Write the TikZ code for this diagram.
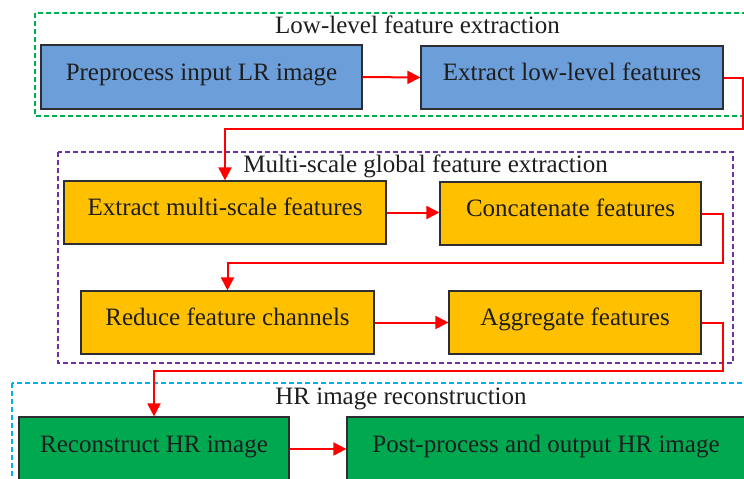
\documentclass[tikz,border=0pt]{standalone}
\usepackage{fontspec}
\setmainfont{Liberation Serif}
\usetikzlibrary{arrows.meta}
\definecolor{boxblue}{RGB}{108,158,218}
\definecolor{boxorange}{RGB}{255,192,0}
\definecolor{boxgreen}{RGB}{0,168,80}
\definecolor{dgreen}{RGB}{0,176,80}
\definecolor{dpurple}{RGB}{112,48,160}
\definecolor{dcyan}{RGB}{0,176,240}
\definecolor{txt}{RGB}{30,30,30}
\definecolor{edge}{RGB}{45,45,50}
\tikzset{
  procbox/.style={draw=edge, line width=1.2pt, inner sep=0pt, text=txt,
    text height=14pt, text depth=8pt,
    font=\fontsize{25}{30}\selectfont, anchor=center},
  grpbox/.style={line width=1.4pt, dash pattern=on 5pt off 3pt},
  grptitle/.style={anchor=base, text=txt, inner sep=0pt, font=\fontsize{25}{30}\selectfont},
  arr/.style={draw=red, line width=2pt, -{Triangle[length=13pt,width=13pt]}}
}
\begin{document}
\begin{tikzpicture}[x=1pt,y=-1pt]
\useasboundingbox (0,0) rectangle (744,479);
\clip (0,0) rectangle (744,479);
% group frames
\draw[grpbox, draw=dgreen] (35,13) rectangle (760,116);
\draw[grpbox, draw=dpurple] (58,152) rectangle (733,363);
\draw[grpbox, draw=dcyan] (12,383) rectangle (760,500);
% group titles
\node[grptitle] (t1) at (417.5,33) {Low-level feature extraction};
\node[grptitle] (t2) at (425.5,172) {Multi-scale global feature extraction};
\node[grptitle] (t3) at (401,404) {HR image reconstruction};
% boxes
\node[procbox, fill=boxblue, minimum width=321pt, minimum height=64pt] (b1) at (201.5,77) {Preprocess input LR image};
\node[procbox, fill=boxblue, minimum width=302pt, minimum height=63pt] (b2) at (572,77.5) {Extract low-level features};
\node[procbox, fill=boxorange, minimum width=322pt, minimum height=63pt] (b3) at (225,212.5) {Extract multi-scale features};
\node[procbox, fill=boxorange, minimum width=261pt, minimum height=63pt] (b4) at (570.5,213.5) {Concatenate features};
\node[procbox, fill=boxorange, minimum width=293pt, minimum height=63pt] (b5) at (227.5,322.5) {Reduce feature channels};
\node[procbox, fill=boxorange, minimum width=252pt, minimum height=63pt] (b6) at (575,322.5) {Aggregate features};
\node[procbox, fill=boxgreen, minimum width=270pt, minimum height=64pt] (b7) at (154,449) {Reconstruct HR image};
\node[procbox, fill=boxgreen, minimum width=398pt, minimum height=64pt] (b8) at (546,449) {Post-process and output HR image};
% turning points
\coordinate (c1) at (743,129);
\coordinate (c2) at (723,263);
\coordinate (c3) at (723,371);
% connectors
\draw[arr] (b1.east) -- (b2.west);
\draw[arr] (b2.east) -| (c1) -| (b3.north);
\draw[arr] (b3.east) -- (b3.east -| b4.west);
\draw[arr] (b4.east) -| (c2) -| (b5.north);
\draw[arr] (b5.east) -- (b5.east -| b6.west);
\draw[arr] (b6.east) -| (c3) -| (b7.north);
\draw[arr] (b7.east) -- (b7.east -| b8.west);
\end{tikzpicture}
\end{document}
